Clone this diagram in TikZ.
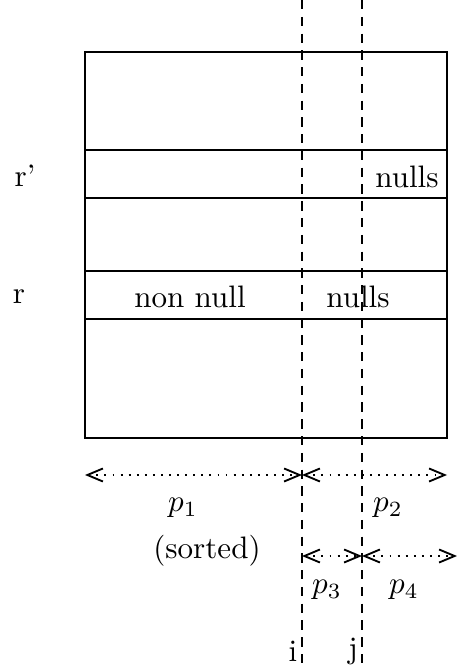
\documentclass[tikz,border=0pt]{standalone}
\usepackage{tikz}
\usetikzlibrary{arrows.meta,positioning}

\begin{document}
\begin{tikzpicture}[x=0.322pt,y=-0.322pt,line width=0.6pt,
  >={Straight Barb[length=5pt,width=4.2pt]},
  cut/.style={dashed,dash pattern=on 3pt off 2.4pt},
  span/.style={<->,dotted}]
\useasboundingbox (0,0) rectangle (456,666);

% table with its two rows
\draw (85,52) rectangle (447,438);
\draw (85,150) -- (447,150);
\draw (85,198) -- (447,198);
\draw (85,271) -- (447,271);
\draw (85,319) -- (447,319);

\node (rp) at (25,176) {r'};
\node (r) at (19,297) {r};
\node (rpnull) at (407,177) {nulls};
\node (rnon) at (190,297) {non null};
\node (rnull) at (358,297) {nulls};

% cut positions
\coordinate (itop) at (302,0);
\coordinate (ibot) at (302,666);
\coordinate (jtop) at (362,0);
\coordinate (jbot) at (362,666);
\draw[cut] (itop) -- (ibot);
\draw[cut] (jtop) -- (jbot);
\node (i) at (293,651) {i};
\node (j) at (353,651) {j};

% partitions
\coordinate (a0) at (85,475);
\coordinate (a1) at (302,475);
\coordinate (a2) at (447,475);
\coordinate (b0) at (302,556);
\coordinate (b1) at (362,556);
\coordinate (b2) at (457,556);
\draw[span] (a0) -- (a1);
\draw[span] (a1) -- (a2);
\draw[span] (b0) -- (b1);
\draw[span] (b1) -- (b2);

\node (p1) at (183,508) {$p_1$};
\node (p2) at (388,508) {$p_2$};
\node (sorted) at (207,551) {(sorted)};
\node (p3) at (327,590) {$p_3$};
\node (p4) at (404,590) {$p_4$};
\end{tikzpicture}
\end{document}
